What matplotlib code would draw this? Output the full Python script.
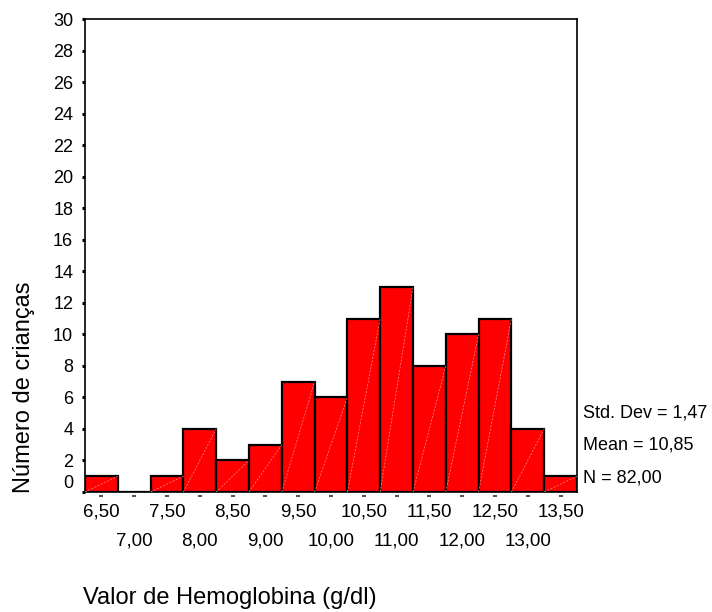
import matplotlib
matplotlib.use("Agg")
import matplotlib.pyplot as plt
import matplotlib.transforms as mtransforms
import numpy as np

plt.rcParams['font.family'] = ['Liberation Sans', 'DejaVu Sans']

bin_centers = [6.5, 7.0, 7.5, 8.0, 8.5, 9.0, 9.5, 10.0, 10.5, 11.0, 11.5, 12.0, 12.5, 13.0, 13.5]
counts = [1, 0, 1, 4, 2, 3, 7, 6, 11, 13, 8, 10, 11, 4, 1]
upper_labels = ["6,50", "7,50", "8,50", "9,50", "10,50", "11,50", "12,50", "13,50"]
lower_labels = ["7,00", "8,00", "9,00", "10,00", "11,00", "12,00", "13,00"]
y_ticks = list(range(0, 31, 2))
stats_lines = ["Std. Dev = 1,47", "Mean = 10,85", "N = 82,00"]
bin_width = 0.5

fig = plt.figure(figsize=(7.12, 6.12), dpi=100)
ax = fig.add_axes([85/712, 1-492/612, (577-85)/712, (492-19)/612])

ax.bar(bin_centers, counts, width=bin_width, color='#ff0000', edgecolor='black',
       linewidth=1.6, align='center', zorder=2)
# faint diagonal artifacts inside bars
for c, h in zip(bin_centers, counts):
    if h > 0:
        ax.plot([c - bin_width/2, c + bin_width/2], [0, h], color='#ff9090',
                linewidth=0.5, linestyle=(0, (3, 2)), zorder=3)

ax.set_xlim(6.25, 13.75)
ax.set_ylim(0, 30)

for s in ax.spines.values():
    s.set_linewidth(1.2)

ax.set_yticks(y_ticks)
ax.set_yticklabels([str(v) for v in y_ticks], fontsize=13)
ax.tick_params(axis='y', direction='out', length=2.5, width=2.2, pad=6)
lbl0 = ax.get_yticklabels()[0]
lbl0.set_va('bottom')

upper_pos = bin_centers[0::2]
lower_pos = bin_centers[1::2]
ax.set_xticks(upper_pos)
ax.set_xticklabels(upper_labels, fontsize=13.5)
ax.set_xticks(lower_pos, minor=True)
ax.set_xticklabels(lower_labels, minor=True, fontsize=13.5)
ax.tick_params(axis='x', which='major', length=0, pad=8)
ax.tick_params(axis='x', which='minor', length=0, pad=29)

trans = mtransforms.blended_transform_factory(ax.transData, ax.transAxes)
ax.scatter(bin_centers, [-0.009]*len(bin_centers), marker='_', s=12, color='#333333',
           linewidths=1.2, transform=trans, clip_on=False, zorder=5)

for i, line in enumerate(stats_lines):
    fig.text(583/712, 1 - (413 + i*32.5)/612, line, fontsize=13, ha='left', va='center')

fig.text(24/712, 1 - 387/612, "Número de crianças", rotation=90, fontsize=17,
         ha='center', va='center')
fig.text(83/712, 1 - 598/612, "Valor de Hemoglobina (g/dl)", fontsize=17,
         ha='left', va='center')

fig.savefig("out.png", dpi=100)
